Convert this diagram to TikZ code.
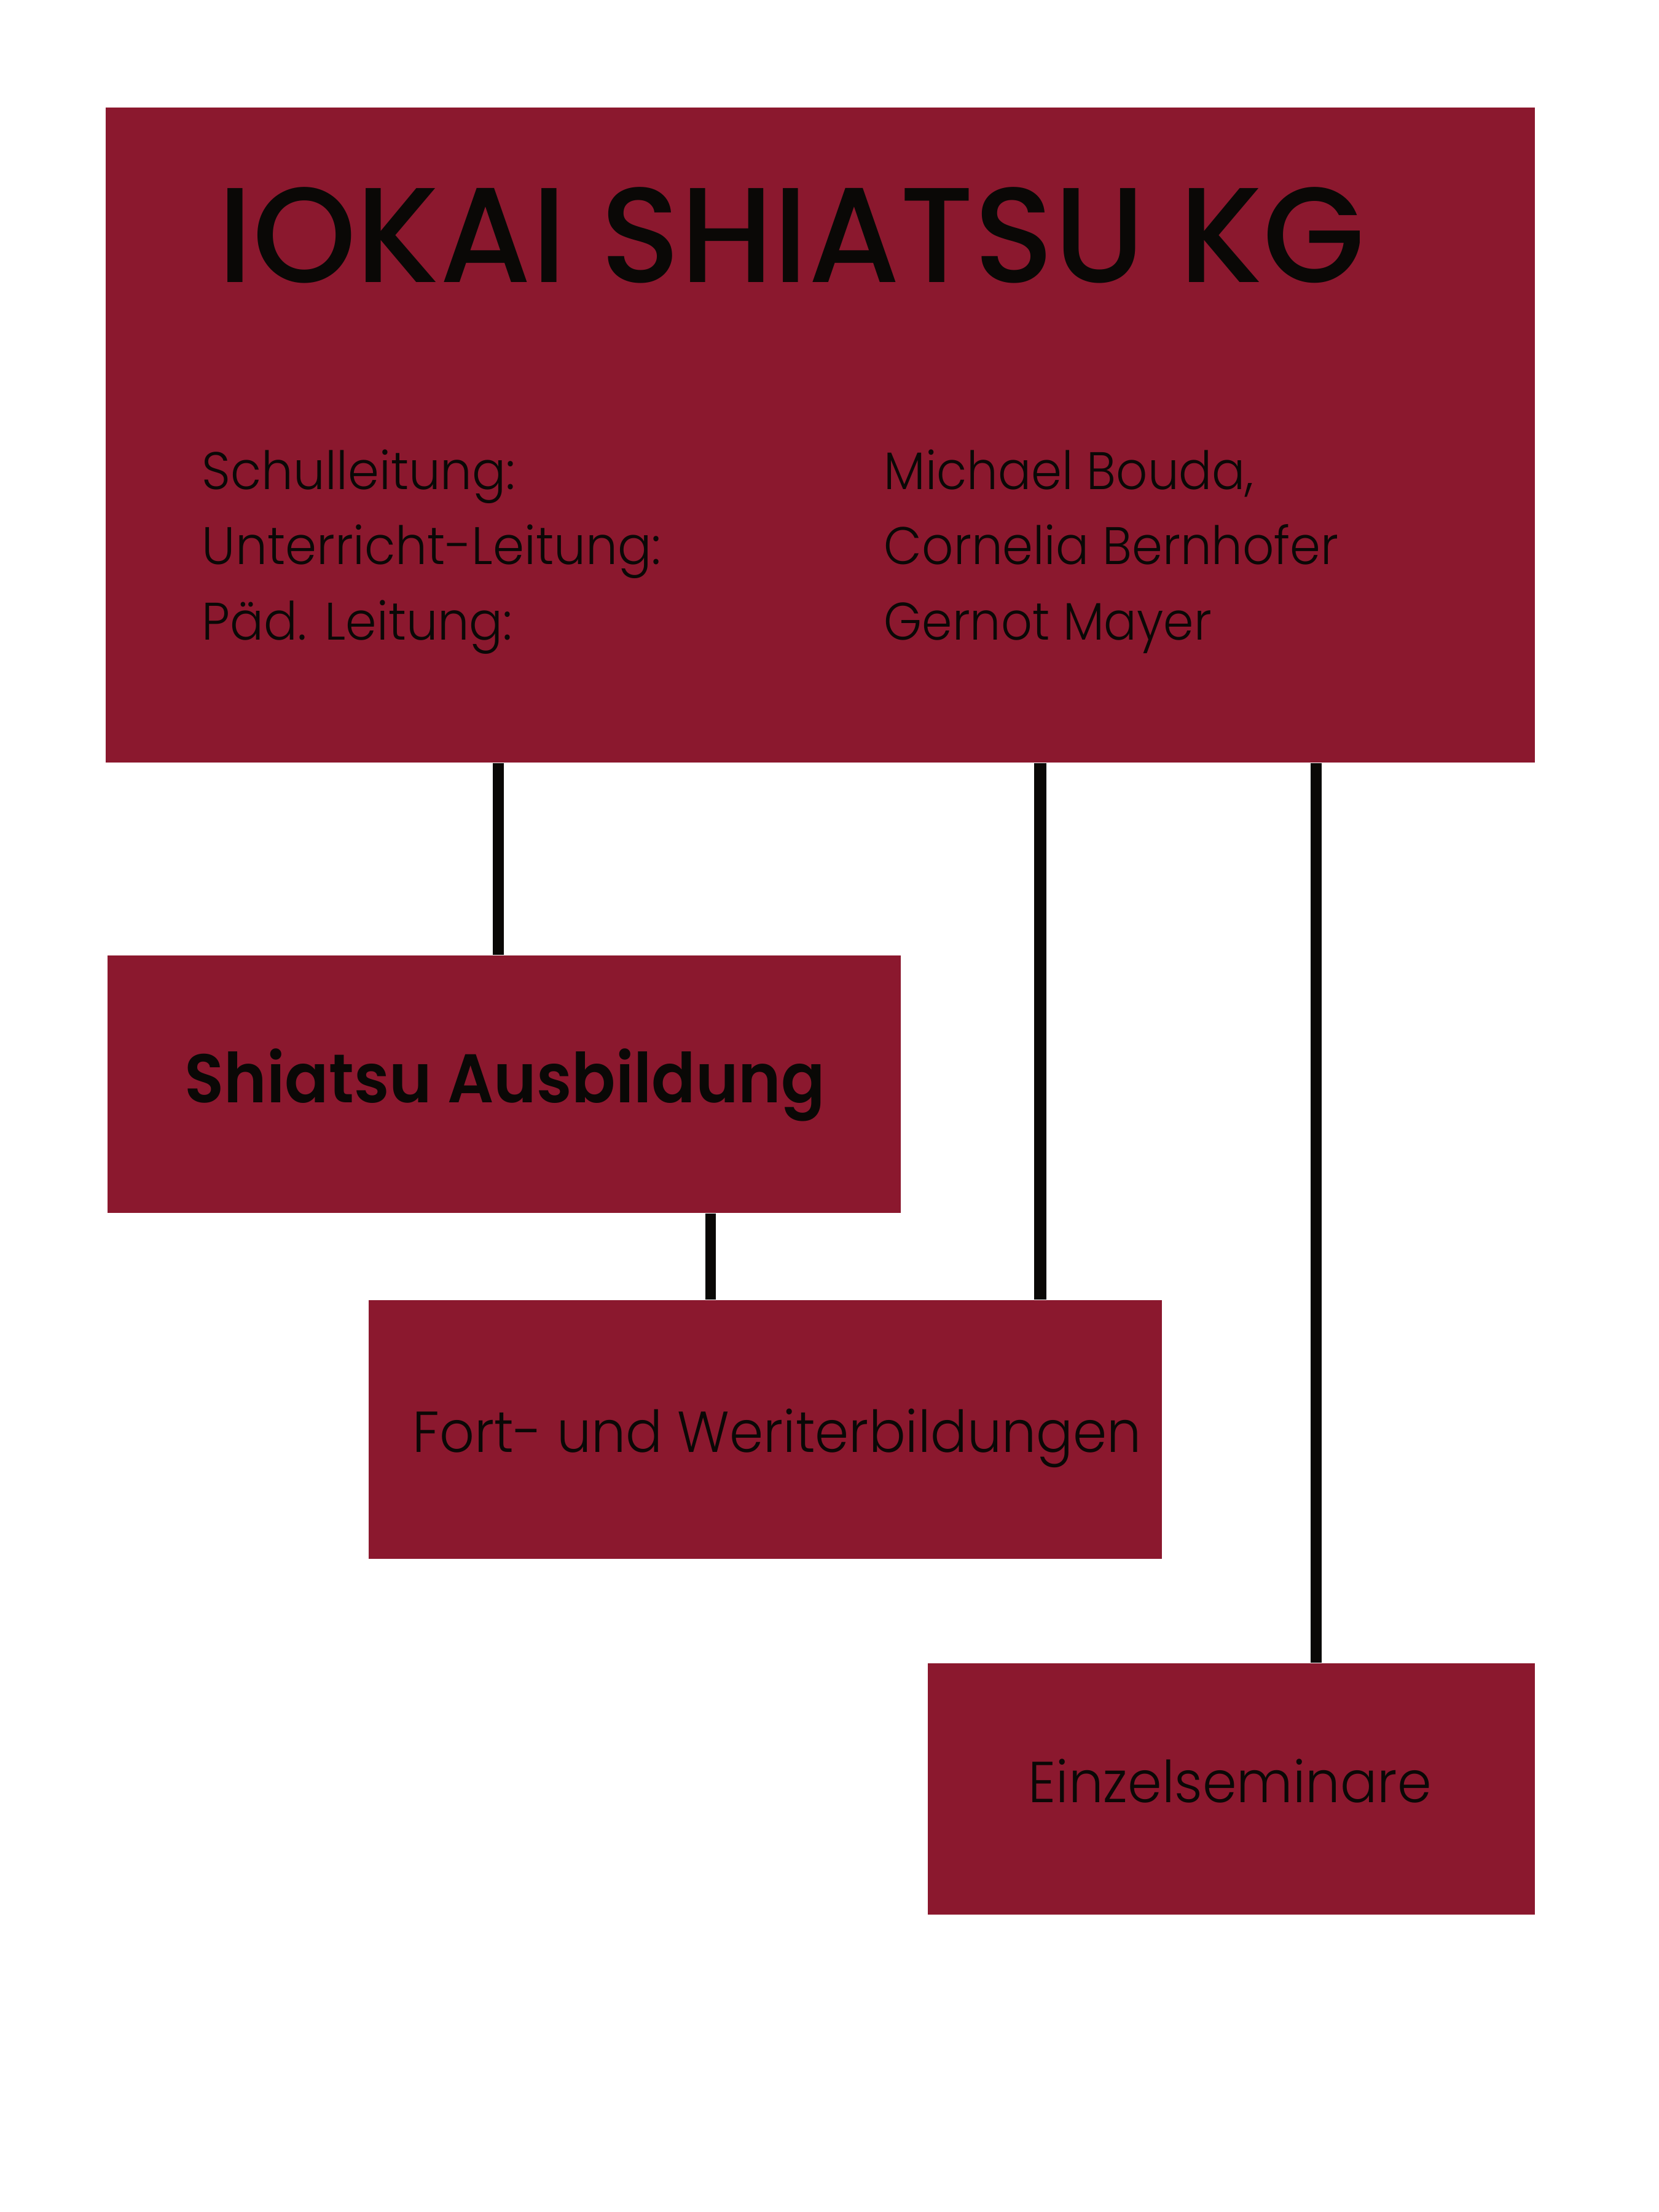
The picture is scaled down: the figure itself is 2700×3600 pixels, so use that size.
\documentclass[tikz,border=0pt]{standalone}
\usepackage{fontspec}
\usetikzlibrary{fit}
\setmainfont{Poppins}
\newfontfamily\lightf{Poppins Light}
\newfontfamily\medf{Poppins Medium}
\newfontfamily\boldf{Poppins SemiBold}
\definecolor{boxred}{HTML}{8B182E}
\definecolor{ink}{HTML}{0A0806}
\newlength\pxu
\setlength\pxu{0.25pt}
\newcommand\fitw[2]{\resizebox{#1\pxu}{\height}{#2}}
\tikzset{
  box/.style={fill=boxred, draw=none, inner sep=0pt},
  txt/.style={anchor=base west, inner sep=0pt, text=ink},
  conn/.style={draw=ink, line width=18\pxu}
}
\begin{document}
\begin{tikzpicture}[x=0.25pt, y=-0.25pt]
\useasboundingbox[fill=white] (0,0) rectangle (2700,3600);
% boxes
\node[box, fit={(172,175)(2498,1241)}] (top) {};
\node[box, fit={(175,1555)(1466,1974)}] (ausb) {};
\node[box, fit={(600,2116)(1891,2537)}] (fort) {};
\node[box, fit={(1510,2707)(2498,3116)}] (einz) {};
% connector columns
\coordinate (c1) at (811,0);
\coordinate (c2) at (1693,0);
\coordinate (c3) at (2142,0);
\coordinate (c4) at (1156,0);
\draw[conn] (top.south -| c1) -- (ausb.north -| c1);
\draw[conn, line width=20\pxu] (top.south -| c2) -- (fort.north -| c2);
\draw[conn] (top.south -| c3) -- (einz.north -| c3);
\draw[conn, line width=17\pxu] (ausb.south -| c4) -- (fort.north -| c4);
% title
\node[txt] (title) at (354,459) {\medf\fontsize{55}{60}\selectfont\fitw{1866}{IOKAI SHIATSU KG}};
% body lines
\node[txt] (l1) at (328,796) {\lightf\fontsize{21.5}{26}\selectfont\fitw{510}{Schulleitung:}};
\node[txt] (l2) at (328,918) {\lightf\fontsize{21.5}{26}\selectfont\fitw{747}{Unterricht-Leitung:}};
\node[txt] (l3) at (328,1041) {\lightf\fontsize{21.5}{26}\selectfont\fitw{505}{Päd. Leitung:}};
\node[txt] (r1) at (1438,796) {\lightf\fontsize{21.5}{26}\selectfont\fitw{602}{Michael Bouda,}};
\node[txt] (r2) at (1438,918) {\lightf\fontsize{21.5}{26}\selectfont\fitw{740}{Cornelia Bernhofer}};
\node[txt] (r3) at (1438,1041) {\lightf\fontsize{21.5}{26}\selectfont\fitw{533}{Gernot Mayer}};
% box labels
\node[txt] (ta) at (300,1794) {\boldf\fontsize{28}{32}\selectfont\fitw{1042}{Shiatsu Ausbildung}};
\node[txt] (tf) at (671,2363) {\lightf\fontsize{23.5}{28}\selectfont\fitw{1186}{Fort- und Weriterbildungen}};
\node[txt] (te) at (1673,2933) {\lightf\fontsize{23.5}{28}\selectfont\fitw{656}{Einzelseminare}};
\end{tikzpicture}
\end{document}
